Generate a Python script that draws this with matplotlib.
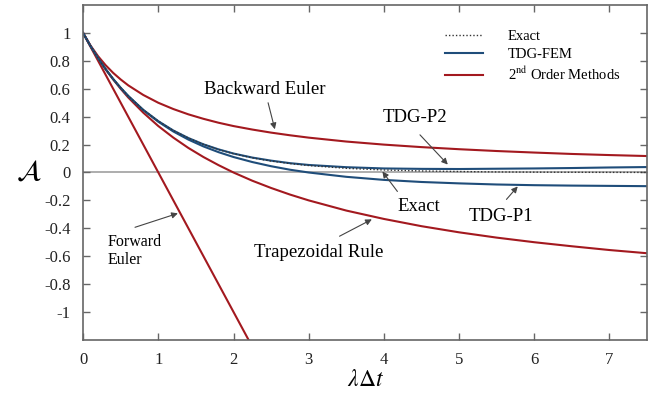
import matplotlib
matplotlib.use("Agg")
import matplotlib.pyplot as plt
from matplotlib.lines import Line2D

plt.rcParams["font.family"] = ["Liberation Serif", "DejaVu Serif"]
plt.rcParams["mathtext.fontset"] = "stix"

# values
x = [0, 0.1, 0.2, 0.3, 0.4, 0.5, 0.6, 0.8, 1.0, 1.2, 1.4, 1.6, 1.8, 2.0, 2.25, 2.5,
     2.75, 3.0, 3.5, 4, 4.5, 5, 5.5, 6, 6.5, 7, 7.5]
exact = [1, 0.905, 0.819, 0.741, 0.670, 0.607, 0.549, 0.449, 0.368, 0.301, 0.247,
         0.202, 0.165, 0.135, 0.105, 0.082, 0.064, 0.050, 0.030, 0.018, 0.011, 0.007,
         0.004, 0.0025, 0.0015, 0.0009, 0.0006]
backward_euler = [1, 0.909, 0.833, 0.769, 0.714, 0.667, 0.625, 0.556, 0.5, 0.455, 0.417,
                  0.385, 0.357, 0.333, 0.308, 0.286, 0.267, 0.25, 0.222, 0.2, 0.182,
                  0.167, 0.154, 0.143, 0.133, 0.125, 0.118]
trapezoidal = [1, 0.905, 0.818, 0.739, 0.667, 0.6, 0.538, 0.429, 0.333, 0.25, 0.176,
               0.111, 0.053, 0.0, -0.059, -0.111, -0.158, -0.2, -0.273, -0.333, -0.385,
               -0.429, -0.467, -0.5, -0.529, -0.556, -0.579]
tdg_p1 = [1, 0.905, 0.819, 0.741, 0.670, 0.606, 0.548, 0.447, 0.364, 0.294, 0.236,
          0.187, 0.146, 0.111, 0.075, 0.045, 0.020, 0.0, -0.031, -0.053, -0.068,
          -0.078, -0.086, -0.091, -0.094, -0.096, -0.098]
tdg_p2 = [1, 0.905, 0.819, 0.741, 0.670, 0.607, 0.549, 0.449, 0.368, 0.301, 0.247,
          0.202, 0.166, 0.136, 0.107, 0.085, 0.067, 0.054, 0.038, 0.029, 0.026, 0.025,
          0.027, 0.029, 0.032, 0.036, 0.039]
fe_x = [0, 2.2]
forward_euler = [1, -1.2]

xticks = [0, 1, 2, 3, 4, 5, 6, 7]
yticks = [-1, -0.8, -0.6, -0.4, -0.2, 0, 0.2, 0.4, 0.6, 0.8, 1]
ytick_labels = ["-1", "-0.8", "-0.6", "-0.4", "-0.2", "0", "0.2", "0.4", "0.6", "0.8", "1"]

red = "#a3191f"
blue = "#1f4d7a"

fig = plt.figure(figsize=(6.65, 3.97), dpi=100)
ax = fig.add_axes([0.125, 0.144, 0.848, 0.843])

ax.axhline(0, color="#a0a0a0", lw=1.2, zorder=1)
ax.plot(x, backward_euler, color=red, lw=1.5)
ax.plot(fe_x, forward_euler, color=red, lw=1.5)
ax.plot(x, trapezoidal, color=red, lw=1.5)
ax.plot(x, tdg_p1, color=blue, lw=1.5)
ax.plot(x, tdg_p2, color=blue, lw=1.5)
ax.plot(x, exact, color="#333333", lw=1.0, ls=(0, (1, 1.5)))

ax.set_xlim(0, 7.5)
ax.set_ylim(-1.2, 1.2)
ax.set_xticks(xticks)
ax.set_xticklabels([str(t) for t in xticks])
ax.set_yticks(yticks)
ax.set_yticklabels(ytick_labels)
ax.tick_params(direction="in", top=True, right=True, length=5, width=1,
               color="#666666", labelsize=12, labelcolor="#222222", pad=9)
for s in ax.spines.values():
    s.set_color("#666666")
    s.set_linewidth(1.2)

ax.set_xlabel(r"$\lambda\Delta t$", fontsize=17, labelpad=1)
ax.set_ylabel(r"$\mathcal{A}$", fontsize=21, rotation=0, labelpad=11, va="center")

arrow = dict(arrowstyle="-|>", color="#444444", lw=0.8, shrinkA=0, shrinkB=0,
             mutation_scale=9)
fs = 13.5

ax.text(2.42, 0.593, "Backward Euler", ha="center", va="center", fontsize=fs)
ax.annotate("", xy=(2.55, 0.31), xytext=(2.46, 0.50), arrowprops=arrow)

ax.text(4.41, 0.393, "TDG-P2", ha="center", va="center", fontsize=fs)
ax.annotate("", xy=(4.85, 0.057), xytext=(4.48, 0.27), arrowprops=arrow)

ax.text(4.46, -0.243, "Exact", ha="center", va="center", fontsize=fs)
ax.annotate("", xy=(3.98, 0.007), xytext=(4.18, -0.136), arrowprops=arrow)

ax.text(5.56, -0.314, "TDG-P1", ha="center", va="center", fontsize=fs)
ax.annotate("", xy=(5.78, -0.1), xytext=(5.63, -0.193), arrowprops=arrow)

ax.text(3.13, -0.571, "Trapezoidal Rule", ha="center", va="center", fontsize=fs)
ax.annotate("", xy=(3.84, -0.336), xytext=(3.41, -0.457), arrowprops=arrow)

ax.text(0.32, -0.565, "Forward\nEuler", ha="left", va="center", fontsize=11.5,
        linespacing=1.15)
ax.annotate("", xy=(1.26, -0.293), xytext=(0.69, -0.393), arrowprops=arrow)

handles = [
    Line2D([], [], color="#333333", lw=1.0, ls=(0, (1, 1.5))),
    Line2D([], [], color=blue, lw=1.5),
    Line2D([], [], color=red, lw=1.5),
]
labels = ["Exact", "TDG-FEM", r"2$^{\mathrm{nd}}$ Order Methods"]
fig.legend(handles, labels, loc="upper left", bbox_to_anchor=(0.669, 0.925),
           frameon=False, fontsize=10.5, handlelength=2.6, handletextpad=1.7,
           labelspacing=0.32, borderpad=0, borderaxespad=0)

fig.savefig("out.png", dpi=100)
